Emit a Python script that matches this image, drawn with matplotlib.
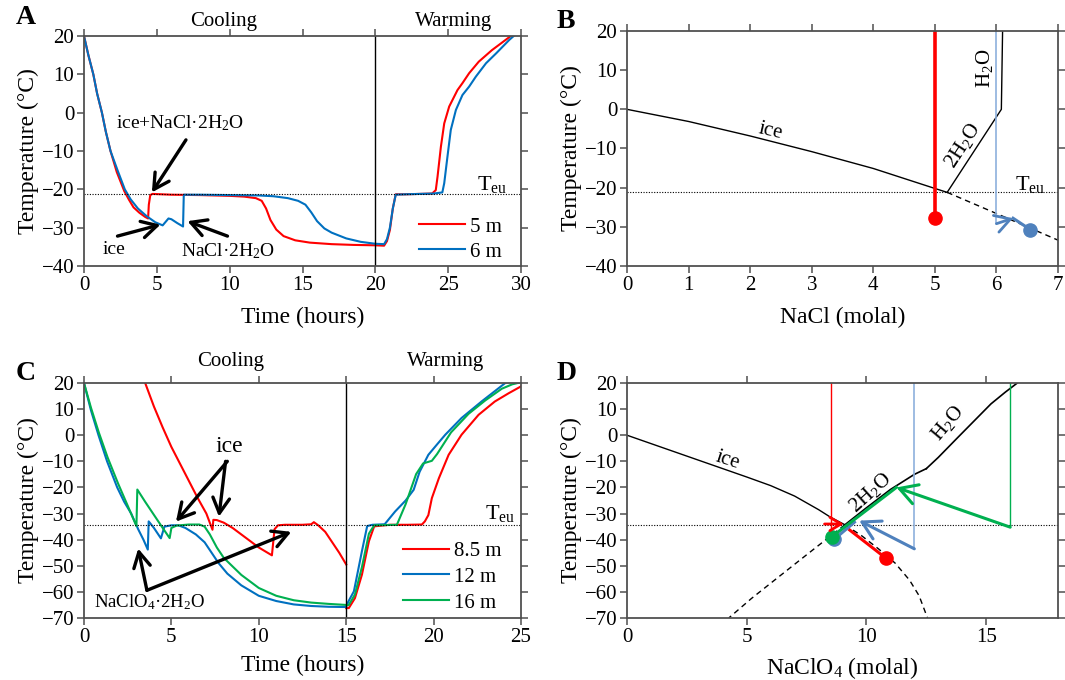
import matplotlib
matplotlib.use("Agg")
import matplotlib.pyplot as plt

# =========================
# DATA
# =========================

# panel A - NaCl cooling/warming curves (time in hours, temperature in C)
a_red_t = [0, 0.3, 0.64, 0.9, 1.23, 1.5, 1.82, 2.25, 2.77, 3.1, 3.4, 3.8, 4.2, 4.4, 4.45, 4.55, 4.7,
           6, 8, 10, 11, 11.8, 12.2, 12.5, 12.8, 13.2, 13.7, 14.5, 15.5, 17, 18.5, 20, 20.6,
           20.8, 21.0, 21.2, 21.4, 22, 23, 23.9, 24.15, 24.27, 24.5, 24.73, 25.07, 25.64, 25.98,
           26.44, 27.1, 28.0, 28.95, 29.3]
a_red_T = [20, 15, 10, 5, 0, -5, -10, -15.5, -20.5, -22.8, -24.7, -26.1, -27.2, -27.6, -24, -21.5, -21.2,
           -21.4, -21.5, -21.7, -21.9, -22.3, -23, -25, -28, -30.5, -32.2, -33.3, -33.9, -34.3, -34.5, -34.6, -34.7,
           -33.5, -30.6, -25, -21.3, -21.3, -21.2, -21.1, -20.2, -16.7, -8.9, -2.8, 1.6, 5.9, 7.7,
           10.3, 13.3, 16.3, 19.0, 20]
a_blue_t = [0, 0.3, 0.64, 0.9, 1.23, 1.5, 1.82, 2.3, 2.8, 3.2, 3.7, 4.3, 4.9, 5.4, 5.6, 5.8, 6.0, 6.4, 6.8,
            6.85, 8, 10, 12, 13, 14, 14.7, 15.2, 15.6, 16, 16.5, 17, 18, 19, 20, 20.6, 20.8, 21.0,
            21.2, 21.4, 22, 23, 24, 24.6, 24.73, 24.95, 25.18, 25.53, 25.98, 26.44, 26.9, 27.6,
            28.3, 29.2, 29.5]
a_blue_T = [20, 15, 10, 5, 0, -5, -10, -15, -20, -22.6, -25, -27, -28.6, -29.4, -28.5, -27.6, -27.8, -28.8, -29.7,
            -21.4, -21.4, -21.5, -21.6, -21.8, -22.3, -23, -24, -26, -28.3, -30.2, -31.3, -32.8, -33.7, -34.2, -34.3, -33, -30,
            -25, -21.4, -21.3, -21.2, -21.1, -20.8, -18.4, -11.5, -4.5, 0.7, 4.6, 6.8, 9.4, 12.9,
            15.5, 19, 20]

# panel C - NaClO4 cooling/warming curves
c_red_cool_t = [3.5, 4.0, 4.5, 5.0, 5.5, 6.0, 6.5, 7.0, 7.35, 7.4, 7.6, 8.0, 8.5, 9.0, 9.5, 10.0, 10.5,
                10.75, 10.9, 11.1, 11.5, 12.5, 13.0, 13.15, 13.4, 13.8, 14.2, 14.6, 15.0]
c_red_cool_T = [20, 11, 3, -4.5, -11, -17.5, -24, -30, -36.2, -32.4, -32.5, -33.5, -35.5, -38, -40.5, -43, -45,
                -46, -36, -34.5, -34.3, -34.3, -34.1, -33.3, -34.5, -37, -41, -45, -49.5]
c_red_warm_t = [15.0, 15.15, 15.5, 15.9, 16.3, 16.6, 17.5, 18.5, 19.33, 19.5, 19.7, 19.9, 20.3, 20.86,
                21.6, 22.57, 23.5, 24.3, 25.0]
c_red_warm_T = [-66.2, -66.2, -62.4, -53.4, -40.6, -34.9, -34.3, -34.3, -34.2, -33, -30.6, -24.1, -16.5, -7.5,
                0.2, 7.8, 12.9, 16.1, 18.7]
c_blue_t = [0, 0.4, 0.83, 1.32, 1.9, 2.3, 2.7, 3.1, 3.4, 3.65, 3.7, 4.0, 4.4, 4.6, 5.0, 5.4, 5.8, 6.4, 6.9,
            7.3, 7.7, 8.2, 9, 10, 11, 12, 13, 14, 15, 15.1, 15.44, 15.9, 16.2, 16.5, 17.2, 17.8, 18.4,
            18.86, 19.2, 19.7, 20.2, 20.67, 21.6, 22.76, 24.1, 24.5]
c_blue_T = [20, 9.5, 0, -10, -20, -25.5, -30, -36, -40, -43.8, -33, -35.5, -39.5, -35, -34.5, -34.5, -35.5, -38, -41,
            -45, -49, -53, -57.5, -61.5, -63.5, -64.8, -65.4, -65.7, -65.8, -64, -59.8, -44.4, -34.8, -34.3, -34.1, -29.2, -25,
            -20.9, -14, -7.5, -3.5, 0.2, 6.6, 13, 20, 20.5]
c_green_t = [0, 0.4, 0.85, 1.35, 1.95, 2.5, 3.0, 3.05, 3.5, 4.0, 4.5, 4.9, 5.0, 5.3, 6.0, 6.6, 6.9, 7.2, 7.6,
             8.0, 9, 10, 11, 12, 13, 14, 15, 15.15, 15.5, 15.9, 16.3, 16.6, 17.9, 18.4, 19.0, 19.4, 19.9,
             20.2, 21.0, 22.0, 22.95, 23.9, 24.5, 25.0]
c_green_T = [20, 10.5, 1, -8.5, -18.5, -27, -34.8, -20.8, -25.5, -30.5, -35.5, -39.4, -35.5, -34.6, -34.2, -34.2, -35, -38, -43,
             -47, -53.5, -58.5, -61.5, -63.2, -64.1, -64.6, -65, -65, -61, -50.5, -37.7, -34.5, -34.3, -26.4, -14.9, -10.8, -9.8,
             -7.2, 1.1, 8.2, 13.3, 17.8, 19.5, 20.3]

# eutectic temperatures
teu_nacl = -21.2
teu_naclo4 = -34.3

# panel B - NaCl phase diagram (molal, C)
b_ice_m = [0, 1, 2, 3, 4, 5, 5.2]
b_ice_T = [0, -3.1, -6.8, -10.8, -15.1, -20.2, -21.2]
b_meta_m = [5.2, 6.0, 7.0]
b_meta_T = [-21.2, -26.6, -33.4]
b_salt_m = [5.2, 6.08, 6.1]
b_salt_T = [-21.2, 0, 20]
b_red_path_m = [5.0, 5.0]
b_red_path_T = [20, -27.7]
b_blue_path_m = [6.0, 6.0]
b_blue_path_T = [20, -29.0]
b_blue_arrow_m = [6.0, 6.27]
b_blue_arrow_T = [-29.2, -27.8]
b_blue_end_m = [6.27, 6.55]
b_blue_end_T = [-27.8, -30.7]

# panel D - NaClO4 phase diagram
d_ice_m = [0, 1, 2, 3, 4, 5, 6, 7, 8, 8.5, 9.1]
d_ice_T = [0, -3.2, -6.4, -9.6, -12.8, -16.0, -19.3, -23.3, -28.5, -31.4, -34.3]
d_meta_ice_m = [9.1, 9.8, 10.5, 11.2, 11.8, 12.2, 12.55]
d_meta_ice_T = [-34.3, -38.5, -43.5, -49, -55.5, -61.5, -70]
d_meta_dih_m = [9.1, 8.5, 7.5, 6.3, 5.2, 4.25]
d_meta_dih_T = [-34.3, -38.6, -45.8, -54.5, -62.5, -70]
d_dih_m = [9.1, 10, 11, 12, 12.5]
d_dih_T = [-34.3, -27.8, -20.8, -15, -12.8]
d_h2o_m = [12.5, 13, 13.8, 14.5, 15.2, 15.8, 16.3]
d_h2o_T = [-12.8, -8.5, -1, 5.5, 12, 16.5, 20]

d_red_path_m = [8.5, 8.5]
d_red_path_T = [20, -36]
d_red_arrow_m = [8.25, 9.05]
d_red_arrow_T = [-34, -34]
d_red_end_m = [9.3, 10.8]
d_red_end_T = [-36.3, -47]

d_blue_path_m = [12, 12]
d_blue_path_T = [20, -43.5]
d_blue_arrow_m = [12, 9.7]
d_blue_arrow_T = [-43.5, -32.7]
d_blue_end_m = [9.5, 8.65]
d_blue_end_T = [-33.3, -39.9]

d_green_path_m = [16, 16]
d_green_path_T = [20, -35.2]
d_green_arrow_m = [16, 11.25]
d_green_arrow_T = [-35.2, -20]
d_green_end_m = [11.25, 8.55]
d_green_end_T = [-20, -38.9]

# =========================
# STYLE
# =========================

plt.rcParams['font.family'] = ['Liberation Serif', 'DejaVu Serif']
plt.rcParams['mathtext.fontset'] = 'custom'
plt.rcParams['mathtext.rm'] = 'Liberation Serif'
plt.rcParams['mathtext.it'] = 'Liberation Serif:italic'

RED = '#FF0000'
BLUE = '#0070C0'
GREEN = '#00B050'
LBLUE = '#8DB0DD'
DBLUE = '#4F81BD'
SPINE = '#505050'

W, H = 1065, 680
fig = plt.figure(figsize=(W / 100, H / 100), dpi=100)


def add_ax(left, top, right, bottom):
    return fig.add_axes([left / W, 1 - bottom / H, (right - left) / W, (bottom - top) / H])


def style(ax):
    for s in ax.spines.values():
        s.set_color(SPINE)
        s.set_linewidth(1.3)
    ax.tick_params(direction='out', top=True, right=True, length=5, width=1.1,
                   color=SPINE, labelsize=15, pad=2)


def arrow(ax, start, end, color='black', lw=2.4, hl=0.55, hw=0.3, ms=20):
    ax.annotate('', xy=end, xytext=start,
                arrowprops=dict(arrowstyle='->,head_length=%s,head_width=%s' % (hl, hw),
                                lw=lw, color=color, shrinkA=0, shrinkB=0,
                                mutation_scale=ms))


axA = add_ax(84, 36, 521, 266)
axB = add_ax(627, 31, 1058, 266)
axC = add_ax(84, 383, 521, 618)
axD = add_ax(627, 383, 1058, 618)

for ax in (axA, axB, axC, axD):
    style(ax)

dotted = (0, (1, 1.4))

# =========================
# PANEL A
# =========================

axA.plot(a_red_t, a_red_T, color=RED, lw=1.5, label='5 m')
axA.plot(a_blue_t, a_blue_T, color=BLUE, lw=1.5, label='6 m')
axA.axvline(20, color='black', lw=1)
axA.axhline(teu_nacl, color='black', lw=0.8, ls=dotted)
axA.set_xlim(0, 30)
axA.set_ylim(-40, 20)
axA.set_xticks(range(0, 31, 5))
axA.set_yticks(range(-40, 21, 10))
axA.set_xlabel('Time (hours)', fontsize=17, labelpad=9)
axA.set_ylabel('Temperature (°C)', fontsize=17, labelpad=2)

tA = axA.get_xaxis_transform()
axA.text(9.6, 1.065, 'Cooling', transform=tA, ha='center', va='center', fontsize=15)
axA.text(25.4, 1.065, 'Warming', transform=tA, ha='center', va='center', fontsize=15)
axA.text(28.0, -18.8, r'T$_{\mathrm{eu}}$', ha='center', va='center', fontsize=16)

axA.text(6.6, -2.7, r'ice+NaCl·2H$_2$O', ha='center', va='center', fontsize=14)
arrow(axA, (7.0, -7.1), (4.66, -20.8))
axA.text(2.05, -35.7, 'ice', ha='center', va='center', fontsize=14)
arrow(axA, (2.3, -32.2), (5.25, -29.2))
axA.text(9.9, -36.1, r'NaCl·2H$_2$O', ha='center', va='center', fontsize=14)
arrow(axA, (9.85, -32.2), (7.1, -28.3))

axA.legend(loc='lower right', bbox_to_anchor=(0.985, -0.035), frameon=False,
           fontsize=15, handlelength=2.2, handletextpad=0.25, labelspacing=0.25,
           borderaxespad=0.2)

# =========================
# PANEL B
# =========================

axB.plot(b_ice_m, b_ice_T, color='black', lw=1)
axB.plot(b_meta_m, b_meta_T, color='black', lw=1, ls=(0, (4, 3)))
axB.plot(b_salt_m, b_salt_T, color='black', lw=1)
axB.axhline(teu_nacl, color='black', lw=0.8, ls=dotted)

axB.plot(b_red_path_m, b_red_path_T, color=RED, lw=2.6)
axB.plot(b_red_path_m[-1], b_red_path_T[-1], 'o', color=RED, ms=9.5)

axB.plot(b_blue_path_m, b_blue_path_T, color=LBLUE, lw=1.2)
arrow(axB, (b_blue_arrow_m[0], b_blue_arrow_T[0]), (b_blue_arrow_m[1], b_blue_arrow_T[1]),
      color=DBLUE, lw=2, hl=0.6, hw=0.35, ms=18)
axB.plot(b_blue_end_m, b_blue_end_T, color=DBLUE, lw=2.2)
axB.plot(b_blue_end_m[-1], b_blue_end_T[-1], 'o', color=DBLUE, ms=9.5)

axB.set_xlim(0, 7)
axB.set_ylim(-40, 20)
axB.set_xticks(range(0, 8))
axB.set_yticks(range(-40, 21, 10))
axB.set_xlabel('NaCl (molal)', fontsize=17, labelpad=9)
axB.set_ylabel('Temperature (°C)', fontsize=17, labelpad=2)

axB.text(2.33, -5.6, 'ice', ha='center', va='center', fontsize=15, rotation=-13)
axB.text(5.45, -9.3, r'2H$_2$O', ha='center', va='center', fontsize=15, rotation=57)
axB.text(5.8, 10.5, r'H$_2$O', ha='center', va='center', fontsize=15, rotation=90)
axB.text(6.55, -19.3, r'T$_{\mathrm{eu}}$', ha='center', va='center', fontsize=16)

# =========================
# PANEL C
# =========================

axC.plot(c_red_cool_t, c_red_cool_T, color=RED, lw=1.5, label='8.5 m')
axC.plot(c_red_warm_t, c_red_warm_T, color=RED, lw=1.5)
axC.plot(c_blue_t, c_blue_T, color=BLUE, lw=1.5, label='12 m')
axC.plot(c_green_t, c_green_T, color=GREEN, lw=1.5, label='16 m')
axC.axvline(15, color='black', lw=1)
axC.axhline(teu_naclo4, color='black', lw=0.8, ls=dotted)
axC.set_xlim(0, 25)
axC.set_ylim(-70, 20)
axC.set_xticks(range(0, 26, 5))
axC.set_yticks(range(-70, 21, 10))
axC.set_xlabel('Time (hours)', fontsize=17, labelpad=6)
axC.set_ylabel('Temperature (°C)', fontsize=17, labelpad=2)

tC = axC.get_xaxis_transform()
axC.text(8.4, 1.09, 'Cooling', transform=tC, ha='center', va='center', fontsize=15)
axC.text(20.7, 1.09, 'Warming', transform=tC, ha='center', va='center', fontsize=15)
axC.text(23.8, -30, r'T$_{\mathrm{eu}}$', ha='center', va='center', fontsize=16)

axC.text(8.3, -4.2, 'ice', ha='center', va='center', fontsize=17)
arrow(axC, (8.2, -10), (5.26, -33.1))
arrow(axC, (8.1, -10), (7.72, -31.2))
axC.text(3.75, -63.9, r'NaClO$_4$·2H$_2$O', ha='center', va='center', fontsize=13.5)
arrow(axC, (3.6, -59.4), (3.1, -43.4))
arrow(axC, (3.6, -59.4), (11.86, -37))

axC.legend(loc='lower right', bbox_to_anchor=(0.985, -0.03), frameon=False,
           fontsize=15, handlelength=2.2, handletextpad=0.25, labelspacing=0.3,
           borderaxespad=0.2)

# =========================
# PANEL D
# =========================

axD.plot(d_ice_m, d_ice_T, color='black', lw=1)
axD.plot(d_meta_ice_m, d_meta_ice_T, color='black', lw=1, ls=(0, (4, 3)))
axD.plot(d_meta_dih_m, d_meta_dih_T, color='black', lw=1, ls=(0, (4, 3)))
axD.plot(d_dih_m, d_dih_T, color='black', lw=1.2)
axD.plot(d_h2o_m, d_h2o_T, color='black', lw=1.2)
axD.axhline(teu_naclo4, color='black', lw=0.8, ls=dotted)

axD.plot(d_red_path_m, d_red_path_T, color=RED, lw=1)
arrow(axD, (d_red_arrow_m[0], d_red_arrow_T[0]), (d_red_arrow_m[1], d_red_arrow_T[1]),
      color=RED, lw=2, hl=0.5, hw=0.3, ms=16)
axD.plot(d_red_end_m, d_red_end_T, color=RED, lw=2.2)
axD.plot(d_red_end_m[-1], d_red_end_T[-1], 'o', color=RED, ms=9.5)

axD.plot(d_blue_path_m, d_blue_path_T, color=LBLUE, lw=1.2)
arrow(axD, (d_blue_arrow_m[0], d_blue_arrow_T[0]), (d_blue_arrow_m[1], d_blue_arrow_T[1]),
      color=DBLUE, lw=2.2, hl=0.7, hw=0.4, ms=18)
axD.plot(d_blue_end_m, d_blue_end_T, color=DBLUE, lw=2.2)
axD.plot(d_blue_end_m[-1], d_blue_end_T[-1], 'o', color=DBLUE, ms=9.5)

axD.plot(d_green_path_m, d_green_path_T, color=GREEN, lw=1)
arrow(axD, (d_green_arrow_m[0], d_green_arrow_T[0]), (d_green_arrow_m[1], d_green_arrow_T[1]),
      color=GREEN, lw=2.2, hl=0.7, hw=0.4, ms=18)
axD.plot(d_green_end_m, d_green_end_T, color=GREEN, lw=2.2)
axD.plot(d_green_end_m[-1], d_green_end_T[-1], 'o', color=GREEN, ms=9.5)

axD.set_xlim(0, 18)
axD.set_ylim(-70, 20)
axD.set_xticks(range(0, 16, 5))
axD.set_yticks(range(-70, 21, 10))
axD.set_xlabel(r'NaClO$_4$ (molal)', fontsize=17, labelpad=6)
axD.set_ylabel('Temperature (°C)', fontsize=17, labelpad=2)

axD.text(4.2, -9.5, 'ice', ha='center', va='center', fontsize=15, rotation=-18)
axD.text(10.15, -22, r'2H$_2$O', ha='center', va='center', fontsize=15, rotation=42)
axD.text(13.4, 4.5, r'H$_2$O', ha='center', va='center', fontsize=15, rotation=50)

# =========================
# PANEL LETTERS
# =========================

for letter, x, y in (('A', 26, 18), ('B', 566, 21), ('C', 26, 373), ('D', 567, 373)):
    fig.text(x / W, 1 - y / H, letter, fontsize=20, weight='bold', ha='center', va='center')

fig.savefig('out.png', dpi=100)
